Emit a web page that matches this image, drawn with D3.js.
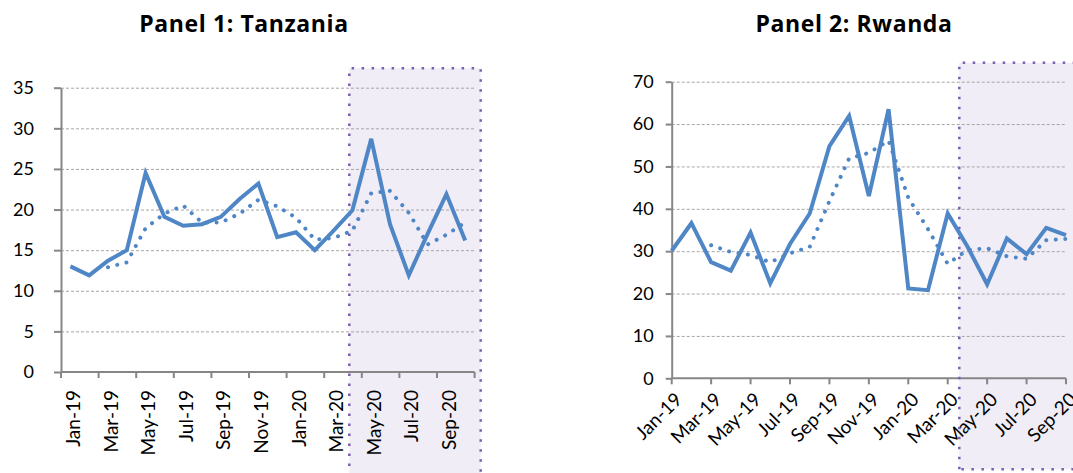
<!DOCTYPE html>
<html>
<head>
<meta charset="utf-8">
<script src="https://cdn.jsdelivr.net/npm/d3@7"></script>
<style>
  body { margin: 0; background: #fff; }
  svg { display: block; font-family: Lato, "Open Sans", sans-serif; }
</style>
</head>
<body>
<svg id="chart" width="1073" height="473"></svg>
<script>
// categories
const tanzaniaMonths = ["Jan-19","Feb-19","Mar-19","Apr-19","May-19","Jun-19","Jul-19","Aug-19","Sep-19","Oct-19","Nov-19","Dec-19",
  "Jan-20","Feb-20","Mar-20","Apr-20","May-20","Jun-20","Jul-20","Aug-20","Sep-20","Oct-20"];
const rwandaMonths = ["Jan-19","Feb-19","Mar-19","Apr-19","May-19","Jun-19","Jul-19","Aug-19","Sep-19","Oct-19","Nov-19","Dec-19",
  "Jan-20","Feb-20","Mar-20","Apr-20","May-20","Jun-20","Jul-20","Aug-20","Sep-20"];
const monthLabels = ["Jan-19","Mar-19","May-19","Jul-19","Sep-19","Nov-19","Jan-20","Mar-20","May-20","Jul-20","Sep-20"];

// series
const tanzaniaValues = [13.0, 11.9, 13.7, 15.0, 24.5, 19.1, 18.0, 18.2, 19.1, 21.3, 23.2, 16.6,
  17.2, 15.0, 17.4, 19.9, 28.7, 18.2, 11.9, 17.0, 21.9, 16.2];
const tanzaniaAverage = [null, null, 12.9, 13.5, 17.7, 19.5, 20.5, 18.4, 18.4, 19.5, 21.2, 20.4,
  19.0, 16.3, 16.5, 17.4, 22.0, 22.3, 19.6, 15.7, 16.9, 18.4];
const rwandaValues = [30.1, 36.6, 27.4, 25.4, 34.4, 22.4, 31.7, 38.9, 54.8, 61.9, 43.0, 63.5,
  21.2, 20.8, 38.9, 31.1, 22.2, 33.0, 29.3, 35.5, 33.8];
const rwandaAverage = [null, null, 31.4, 29.8, 29.1, 27.4, 29.5, 31.0, 41.8, 51.9, 53.2, 56.1,
  42.6, 35.2, 27.0, 30.3, 30.7, 28.8, 28.2, 32.6, 32.9];

// y ticks
const tanzaniaTicks = [0, 5, 10, 15, 20, 25, 30, 35];
const rwandaTicks = [0, 10, 20, 30, 40, 50, 60, 70];

const lineColor = "#4F86C6";
const axisColor = "#868686";
const svg = d3.select("#chart");

const drawPanel = (p) => {
  const g = svg.append("g");
  const x0 = p.x.range()[0], x1 = p.x.range()[1];
  const y0 = p.y.range()[0];
  const cx = (d) => p.band ? p.x(d) + p.x.bandwidth() / 2 : p.x(d);

  // title
  g.append("text")
    .text(p.title)
    .attr("x", p.titleX)
    .attr("y", 32)
    .attr("text-anchor", "middle")
    .attr("font-family", "'Open Sans', sans-serif")
    .attr("font-weight", "bold")
    .attr("font-size", "23px")
    .attr("letter-spacing", "0.6px")
    .attr("fill", "#000");

  // shaded period
  g.append("rect")
    .attr("x", p.box.x0).attr("y", p.box.y0)
    .attr("width", p.box.x1 - p.box.x0).attr("height", p.box.y1 - p.box.y0)
    .attr("fill", "#F0EDF6");

  // gridlines
  g.append("g")
    .attr("transform", `translate(${x0},0)`)
    .call(d3.axisLeft(p.y).tickValues(p.ticks.slice(1)).tickSize(-(x1 - x0)).tickFormat(""))
    .call(s => s.select(".domain").remove())
    .call(s => s.selectAll("line")
      .attr("stroke", "#A6A6A6")
      .attr("stroke-dasharray", "3,2"));

  // y axis
  g.append("g")
    .attr("transform", `translate(${x0},0)`)
    .call(d3.axisLeft(p.y).tickValues(p.ticks).tickSize(p.yTick).tickSizeOuter(0).tickPadding(p.yPad))
    .call(s => s.select(".domain").attr("stroke", axisColor).attr("stroke-width", 2))
    .call(s => s.selectAll("line").attr("stroke", axisColor).attr("stroke-width", 2))
    .call(s => s.selectAll("text")
      .attr("font-size", "18px")
      .attr("font-family", "Lato, sans-serif")
      .attr("fill", "#000"));

  // x axis line and ticks
  const xAxis = g.append("g")
    .attr("transform", `translate(0,${y0})`);
  xAxis.append("line")
    .attr("x1", x0).attr("x2", x1)
    .attr("stroke", axisColor).attr("stroke-width", 2);
  const tickPos = p.band
    ? monthLabels.map(m => p.x(m)).concat([x1])
    : monthLabels.map(m => p.x(m));
  xAxis.selectAll(".xt")
    .data(tickPos)
    .enter()
    .append("line")
    .attr("x1", d => d).attr("x2", d => d)
    .attr("y1", 0).attr("y2", 6)
    .attr("stroke", axisColor).attr("stroke-width", 2);

  // x labels
  g.selectAll(".xl")
    .data(monthLabels)
    .enter()
    .append("text")
    .text(d => d)
    .attr("transform", d => p.band
      ? `translate(${cx(d) + 3},${p.labelY}) rotate(-90)`
      : `translate(${cx(d) + 7},${p.labelY}) rotate(-45)`)
    .attr("text-anchor", "end")
    .attr("dy", "0.35em")
    .attr("font-size", "19px")
    .attr("fill", "#000");

  // border of shaded period
  const b = p.box;
  g.append("path")
    .attr("d", `M${b.x0},${b.y1}V${b.y0}H${b.x1}V${b.y1}` + (p.boxBottom ? `H${b.x0}` : ""))
    .attr("fill", "none")
    .attr("stroke", "#7B5FB0")
    .attr("stroke-width", 2.5)
    .attr("stroke-dasharray", "2.5,7.5");

  const line = d3.line()
    .defined(d => d[1] != null)
    .x(d => cx(d[0]))
    .y(d => p.y(d[1]));

  // moving average (dotted)
  g.append("path")
    .datum(p.months.map((m, i) => [m, p.average[i]]))
    .attr("d", line)
    .attr("fill", "none")
    .attr("stroke", lineColor)
    .attr("stroke-width", 4)
    .attr("stroke-linecap", "round")
    .attr("stroke-dasharray", "0.01,9.5");

  // actual (solid)
  g.append("path")
    .datum(p.months.map((m, i) => [m, p.values[i]]))
    .attr("d", line)
    .attr("fill", "none")
    .attr("stroke", lineColor)
    .attr("stroke-width", 4)
    .attr("stroke-linejoin", "miter");
};

drawPanel({
  title: "Panel 1: Tanzania",
  titleX: 244,
  band: true,
  months: tanzaniaMonths,
  values: tanzaniaValues,
  average: tanzaniaAverage,
  ticks: tanzaniaTicks,
  x: d3.scaleBand().domain(tanzaniaMonths).range([61, 474.6]),
  y: d3.scaleLinear().domain([0, 35]).range([372, 87.7]),
  yTick: 7, yPad: 20,
  labelY: 390,
  box: { x0: 349.3, x1: 480.7, y0: 68.3, y1: 476 },
  boxBottom: false
});

drawPanel({
  title: "Panel 2: Rwanda",
  titleX: 854,
  band: false,
  months: rwandaMonths,
  values: rwandaValues,
  average: rwandaAverage,
  ticks: rwandaTicks,
  x: d3.scalePoint().domain(rwandaMonths).range([671.7, 1066]),
  y: d3.scaleLinear().domain([0, 70]).range([378.3, 81.7]),
  yTick: 6, yPad: 12,
  labelY: 396,
  box: { x0: 959.3, x1: 1080, y0: 62.7, y1: 469.3 },
  boxBottom: true
});
</script>
</body>
</html>
